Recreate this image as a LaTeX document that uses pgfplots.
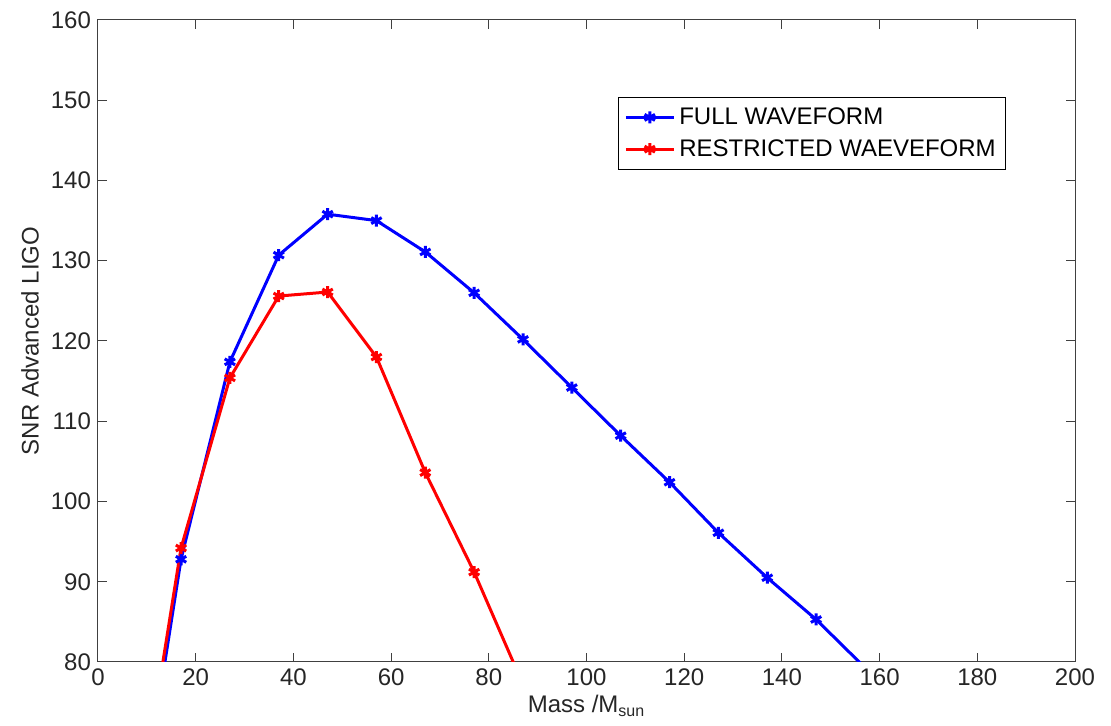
\documentclass[border=0pt]{standalone}
\usepackage{fontspec}
\setmainfont{Liberation Sans}
\usepackage{pgfplots}
\pgfplotsset{compat=1.18}
\begin{document}
\begin{tikzpicture}
\begin{axis}[
  scale only axis,
  width=488.5pt, height=321pt,
  xmin=0, xmax=200, ymin=80, ymax=160,
  xtick={0,20,...,200}, ytick={80,90,...,160},
  tick align=inside,
  major tick length=4.5pt,
  axis line style={line width=0.5pt, draw=black!75},
  every tick/.style={line width=0.5pt, black!75},
  tick label style={font=\fontsize{12}{14}\selectfont, black!85},
  /pgf/number format/assume math mode=true,
  xlabel={Mass /M\textsubscript{sun}},
  ylabel={SNR Advanced LIGO},
  label style={font=\fontsize{12}{14}\selectfont, black!85},
  xlabel style={at={(axis description cs:0.5,0)}, anchor=base, yshift=-25.5pt},
  ylabel style={at={(axis description cs:-0.0696,0.5)}, anchor=center},
  legend style={at={(axis description cs:0.532,0.88)}, anchor=north west,
    draw=black, line width=0.5pt, font=\fontsize{12}{14}\selectfont,
    inner xsep=3pt, inner ysep=3pt, row sep=2pt},
  legend cell align=left,
  legend image code/.code={\draw[#1] (0cm,0cm) -- (24pt,0cm); \draw[#1, mark repeat=1] plot coordinates {(12pt,0cm)};},
]
\coordinate (bl) at (rel axis cs:0,0);
\coordinate (tr) at (rel axis cs:1,1);
\addplot[color=blue, line width=1.5pt, mark=asterisk, mark size=3pt, mark options={line width=1.5pt}] coordinates {
(7,54) (17,92.8) (27,117.4) (37,130.7) (47,135.8) (57,135.0) (67,131.1) (77,126.0) (87,120.2) (97,114.2) (107,108.2) (117,102.4) (127,96.1) (137,90.5) (147,85.3) (157,79.3)
};
\addlegendentry{FULL WAVEFORM}
\addplot[color=red, line width=1.5pt, mark=asterisk, mark size=3pt, mark options={line width=1.5pt}] coordinates {
(7,56) (17,94.2) (27,115.4) (37,125.6) (47,126.1) (57,118.0) (67,103.6) (77,91.2) (87,77.2)
};
\addlegendentry{RESTRICTED WAEVEFORM}
\end{axis}
\path ([xshift=-49pt,yshift=-32pt]bl) rectangle ([xshift=18pt,yshift=10pt]tr);
\end{tikzpicture}
\end{document}
